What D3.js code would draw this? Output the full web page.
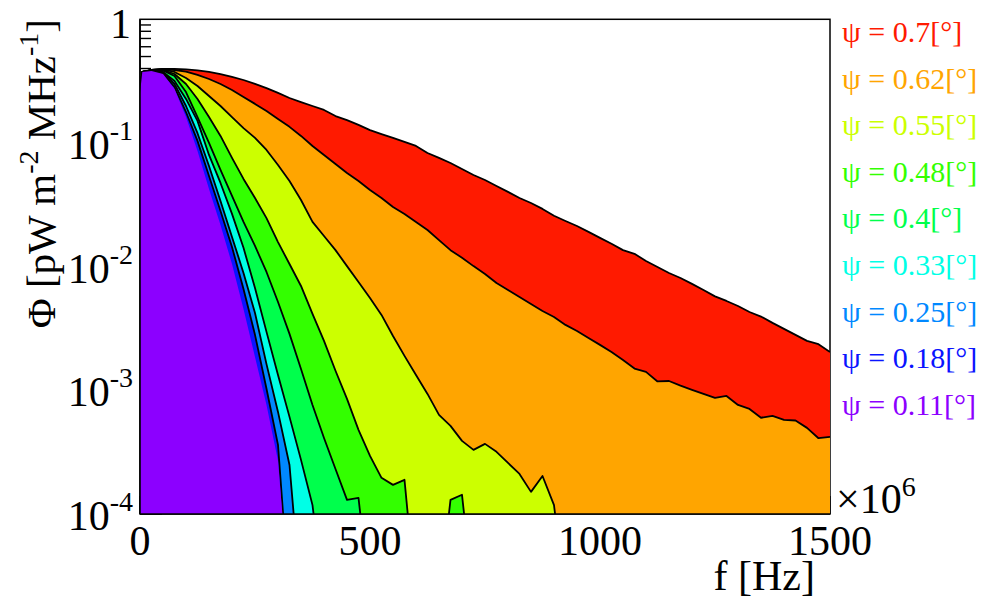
<!DOCTYPE html>
<html>
<head>
<meta charset="utf-8">
<script src="https://cdn.jsdelivr.net/npm/d3@7"></script>
</head>
<body style="margin:0; background:#fff">
<svg id="chart" width="994" height="602" style="display:block"></svg>
<script>
// Frequency bins in MHz (axis is shown in Hz with a x10^6 multiplier)
const freqMHz = [0, 5, 25, 50, 75, 100, 125, 150, 175, 200, 225, 250, 275, 300, 325, 350, 375, 400,
  425, 450, 475, 500, 525, 550, 575, 600, 625, 650, 675, 700, 725, 750, 775, 800, 825, 850, 875, 900,
  925, 950, 975, 1000, 1025, 1050, 1075, 1100, 1125, 1150, 1175, 1200, 1225, 1250, 1275, 1300, 1325,
  1350, 1375, 1400, 1425, 1450, 1475, 1500];

// Opening angle of each spectrum, degrees
const psiLabels = ["0.7", "0.62", "0.55", "0.48", "0.4", "0.33", "0.25", "0.18", "0.11"];
const psiColors = ["#ff1a00", "#ffa500", "#ccff00", "#33ff00", "#00ff4c", "#00ffe6", "#0088ff", "#0a14ff", "#8c00ff"];

// Flux density Phi [pW m^-2 MHz^-1] per bin; a series ends where it drops below 1e-4
const phi070 = [0.254, 0.375, 0.389, 0.397, 0.397, 0.393, 0.386, 0.375, 0.361, 0.342, 0.323, 0.300,
  0.278, 0.254, 0.231, 0.214, 0.199, 0.185, 0.165, 0.153, 0.140, 0.127, 0.118, 0.110, 0.102, 0.0946,
  0.0830, 0.0757, 0.0689, 0.0616, 0.0551, 0.0502, 0.0449, 0.0402, 0.0359, 0.0327, 0.0293, 0.0258,
  0.0234, 0.0213, 0.0191, 0.0171, 0.0153, 0.0136, 0.0127, 0.0111, 0.00994, 0.00889, 0.00810, 0.00725,
  0.00648, 0.00575, 0.00528, 0.00481, 0.00430, 0.00395, 0.00351, 0.00314, 0.00281, 0.00251, 0.00236, 0.00204];
const phi062 = [0.254, 0.375, 0.389, 0.397, 0.389, 0.378, 0.355, 0.329, 0.300, 0.268, 0.235, 0.207,
  0.181, 0.156, 0.135, 0.114, 0.0946, 0.0800, 0.0676, 0.0572, 0.0493, 0.0417, 0.0359, 0.0304, 0.0267,
  0.0230, 0.0198, 0.0164, 0.0136, 0.0118, 0.0101, 0.00873, 0.00738, 0.00648, 0.00569, 0.00499, 0.00438,
  0.00392, 0.00338, 0.00302, 0.00265, 0.00233, 0.00204, 0.00176, 0.00150, 0.00141, 0.00118, 0.00119,
  0.00109, 0.00101, 0.000935, 0.000868, 0.000900, 0.000762, 0.000707, 0.000600, 0.000621, 0.000576,
  0.000570, 0.000497, 0.000410, 0.000420];
const phi055 = [0.254, 0.375, 0.389, 0.393, 0.375, 0.335, 0.289, 0.240, 0.199, 0.162, 0.132, 0.110,
  0.0878, 0.0664, 0.0493, 0.0346, 0.0230, 0.0177, 0.0136, 0.0101, 0.00752, 0.00558, 0.00407, 0.00275,
  0.00190, 0.00133, 0.000935, 0.000633, 0.000516, 0.000390, 0.000330, 0.000369, 0.000318, 0.000259,
  0.000211, 0.000151, 0.000203, 0.000118, 0];
const phi048 = [0.254, 0.375, 0.389, 0.389, 0.361, 0.300, 0.227, 0.162, 0.114, 0.0757, 0.0512, 0.0359,
  0.0247, 0.0158, 0.0105, 0.00698, 0.00415, 0.00251, 0.00144, 0.000852, 0.000479, 0.000295, 0.000196,
  0.000172, 0.000189, 0, 0, 0, 0.000130, 0.000143, 0];
const phi040 = [0.254, 0.375, 0.389, 0.386, 0.348, 0.258, 0.162, 0.100, 0.0605, 0.0373, 0.0230, 0.0147,
  0.00906, 0.00518, 0.00286, 0.00149, 0.000762, 0.000412, 0.000231, 0.000130, 0.000135, 0];
const phi033 = [0.254, 0.375, 0.386, 0.375, 0.317, 0.227, 0.151, 0.0800, 0.0475, 0.0267, 0.0142, 0.00673,
  0.00297, 0.00133, 0.000610, 0.000274, 0.000118, 0];
const phi025 = [0.254, 0.375, 0.382, 0.372, 0.300, 0.199, 0.120, 0.0652, 0.0340, 0.0174, 0.00889, 0.00422,
  0.00163, 0.000669, 0.000249, 0];
const phi018 = [0.254, 0.375, 0.382, 0.365, 0.284, 0.178, 0.104, 0.0541, 0.0282, 0.0144, 0.00660, 0.00281,
  0.00103, 0.000362, 0];
const phi011 = [0.254, 0.375, 0.382, 0.361, 0.273, 0.162, 0.0861, 0.0425, 0.0217, 0.0105, 0.00455, 0.00186,
  0.000762, 0.000270, 0];

const seriesValues = [phi070, phi062, phi055, phi048, phi040, phi033, phi025, phi018, phi011];
const xTickValues = [0, 500, 1000, 1500];
const yTickExponents = [0, -1, -2, -3, -4];

const SERIF = "Times";
const svg = d3.select("#chart");
const plot = { left: 140, right: 830, top: 19.3, bottom: 514 };

const x = d3.scaleLinear().domain([0, 1500]).range([plot.left, plot.right]);
const y = d3.scaleLog().domain([1e-4, 1]).range([plot.bottom, plot.top]);
const belowAxis = 2e-5;

svg.append("defs").append("clipPath").attr("id", "plotClip")
  .append("rect")
  .attr("x", plot.left).attr("y", plot.top)
  .attr("width", plot.right - plot.left).attr("height", plot.bottom - plot.top);

// frame
svg.append("rect")
  .attr("x", plot.left).attr("y", plot.top)
  .attr("width", plot.right - plot.left).attr("height", plot.bottom - plot.top)
  .attr("fill", "none").attr("stroke", "#000").attr("stroke-width", 1.5);

// y ticks (log), drawn beneath the filled spectra
const tickG = svg.append("g").attr("stroke", "#000").attr("stroke-width", 1.4);
for (let e = -4; e <= -1; e++) {
  for (let m = 1; m <= 9; m++) {
    const v = m * Math.pow(10, e);
    const len = m === 1 ? 22 : 11;
    tickG.append("line")
      .attr("x1", plot.left).attr("x2", plot.left + len)
      .attr("y1", y(v)).attr("y2", y(v));
  }
}
// x ticks
x.ticks(15).forEach(t => {
  const len = xTickValues.includes(t) ? 18 : 9;
  tickG.append("line")
    .attr("x1", x(t)).attr("x2", x(t))
    .attr("y1", plot.bottom).attr("y2", plot.bottom - len);
});

// filled spectra, widest first
const area = d3.area()
  .x(d => x(d[0]))
  .y0(y(1e-4))
  .y1(d => y(Math.max(d[1], belowAxis)))
  .curve(d3.curveLinear);
const line = d3.line()
  .x(d => x(d[0]))
  .y(d => y(Math.max(d[1], belowAxis)))
  .curve(d3.curveLinear);

const dataG = svg.append("g").attr("clip-path", "url(#plotClip)");
seriesValues.forEach((vals, i) => {
  const pts = vals.map((v, k) => [freqMHz[k], v]);
  dataG.append("path")
    .attr("d", area(pts))
    .attr("fill", psiColors[i])
    .attr("stroke", "none");
  if (i < seriesValues.length - 1) {
    dataG.append("path")
      .attr("d", line(pts))
      .attr("fill", "none")
      .attr("stroke", "#000")
      .attr("stroke-width", 1.8)
      .attr("stroke-linejoin", "round");
  }
});

// axis lines over the fills
svg.append("line").attr("x1", plot.left).attr("x2", plot.left)
  .attr("y1", plot.top).attr("y2", plot.bottom)
  .attr("stroke", "#000").attr("stroke-width", 1.6);
svg.append("line").attr("x1", plot.left).attr("x2", plot.right)
  .attr("y1", plot.bottom).attr("y2", plot.bottom)
  .attr("stroke", "#000").attr("stroke-width", 1.6);

// all labels share one serif face
const labels = svg.append("g").style("font-family", SERIF);

// y tick labels
yTickExponents.forEach(e => {
  const yy = y(Math.pow(10, e));
  if (e === 0) {
    labels.append("text").style("font-family", SERIF).attr("x", 131).attr("y", 38)
      .attr("text-anchor", "end").attr("font-size", 42).text("1");
  } else {
    const t = labels.append("text").style("font-family", SERIF).attr("x", 133).attr("y", yy + 16)
      .attr("text-anchor", "end").attr("font-size", 42);
    t.append("tspan").text("10");
    t.append("tspan").attr("font-size", 28).attr("dy", -19).text(String(e));
  }
});

// x tick labels
xTickValues.forEach(v => {
  labels.append("text").style("font-family", SERIF).attr("x", x(v)).attr("y", 555)
    .attr("text-anchor", "middle").attr("font-size", 42).text(String(v));
});

// multiplier
const mult = labels.append("text").style("font-family", SERIF).attr("x", 836).attr("y", 513).attr("font-size", 42);
mult.append("tspan").text("\u00d710");
mult.append("tspan").attr("font-size", 28).attr("dy", -17).text("6");

// axis titles
labels.append("text").style("font-family", SERIF).attr("x", 815).attr("y", 590)
  .attr("text-anchor", "end").attr("font-size", 42).text("f [Hz]");

const yt = labels.append("text").style("font-family", SERIF)
  .attr("transform", "translate(55,19) rotate(-90)")
  .attr("text-anchor", "end").attr("font-size", 41);
yt.append("tspan").text("\u03a6 [pW m");
yt.append("tspan").attr("font-size", 28).attr("dy", -17).text("-2");
yt.append("tspan").attr("dy", 17).text(" MHz");
yt.append("tspan").attr("font-size", 28).attr("dy", -17).text("-1");
yt.append("tspan").attr("dy", 17).text("]");

// legend
psiLabels.forEach((lab, i) => {
  labels.append("text").style("font-family", SERIF)
    .attr("x", 842).attr("y", 42 + i * 46.6)
    .attr("font-size", 30)
    .attr("fill", psiColors[i])
    .text("\u03c8 = " + lab + "[\u00b0]");
});
</script>
</body>
</html>
